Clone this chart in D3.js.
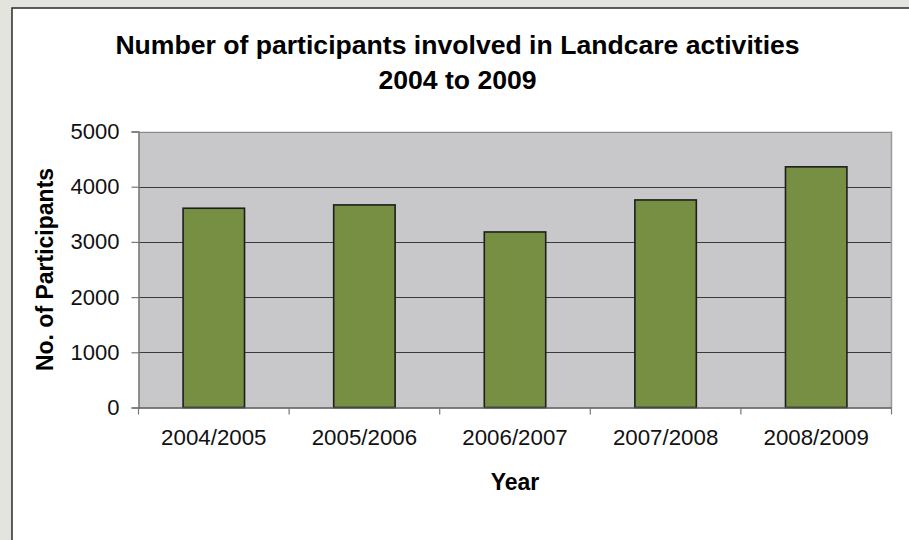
<!DOCTYPE html>
<html><head><meta charset="utf-8">
<script src="https://cdn.jsdelivr.net/npm/d3@7"></script>
<style>html,body{margin:0;padding:0;background:#e4e4de;}svg{display:block;}</style>
</head><body>
<svg id="c" width="909" height="540"></svg>
<script>
const categories = ["2004/2005","2005/2006","2006/2007","2007/2008","2008/2009"];
const participants = [3610, 3670, 3180, 3760, 4360];
const yTicks = [0,1000,2000,3000,4000,5000];
const titleLines = ["Number of participants involved in Landcare activities","2004 to 2009"];
const yLabel = "No. of Participants";
const xLabel = "Year";

const svg = d3.select("#c");
const font = "'Liberation Sans', Arial, sans-serif";
// white chart panel
svg.append("rect").attr("x",12).attr("y",8).attr("width",920).attr("height",560)
  .attr("fill","#fff").attr("stroke","#2a2a2a").attr("stroke-width",1.5);

const L=138.5, R=891.5, T=131.5, B=407.5;
const x = d3.scaleBand().domain(categories).range([L,R]).padding(0);
const y = d3.scaleLinear().domain([0,5000]).range([B,T]);

svg.append("rect").attr("x",L).attr("y",T).attr("width",R-L).attr("height",B-T).attr("fill","#c8c8ca");

// gridlines
svg.append("g").selectAll("line").data(yTicks.filter(d=>d>0)).join("line")
  .attr("x1",L).attr("x2",R).attr("y1",d=>Math.round(y(d))+0.5).attr("y2",d=>Math.round(y(d))+0.5)
  .attr("stroke",d=>d===5000?"#8a8a8a":"#3a3a3a").attr("stroke-width",1);

// right border
svg.append("line").attr("x1",R).attr("x2",R).attr("y1",T).attr("y2",B).attr("stroke","#9a9a9a").attr("stroke-width",1.5);

// bars
const bw = x.bandwidth()*0.408;
svg.append("g").selectAll("rect").data(participants).join("rect")
  .attr("x",(d,i)=>x(categories[i])+x.bandwidth()/2-bw/2)
  .attr("y",d=>y(d)).attr("width",bw).attr("height",d=>B-y(d))
  .attr("fill","#778f43").attr("stroke","#1e1e1e").attr("stroke-width",1.6);

// y axis
const ya = svg.append("g").attr("transform",`translate(${L},0)`)
  .call(d3.axisLeft(y).tickValues(yTicks).tickSize(7).tickPadding(12).tickFormat(d3.format("d")));
ya.select(".domain").attr("stroke","#777").attr("stroke-width",1.5);
ya.selectAll(".tick line").attr("stroke","#777").attr("stroke-width",1.2);
ya.selectAll("text").attr("font-family",font).attr("font-size","22px").attr("fill","#111");

// x axis
const xa = svg.append("g").attr("transform",`translate(0,${B})`)
  .call(d3.axisBottom(x).tickSize(0).tickPadding(22));
xa.select(".domain").attr("stroke","#555").attr("stroke-width",1.5);
xa.selectAll("text").attr("font-family",font).attr("font-size","22.3px").attr("fill","#111");
// boundary ticks
const bounds = categories.map(c=>x(c)).concat([R]);
svg.append("g").selectAll("line").data(bounds).join("line")
  .attr("x1",d=>d).attr("x2",d=>d).attr("y1",B).attr("y2",B+7)
  .attr("stroke","#777").attr("stroke-width",1.2);

// title
svg.append("g").selectAll("text").data(titleLines).join("text")
  .attr("x",457.5).attr("y",(d,i)=>53.5+i*35).attr("text-anchor","middle")
  .attr("font-family",font).attr("font-weight","bold").attr("font-size","26.6px").attr("fill","#000")
  .text(d=>d);

svg.append("text").attr("transform","translate(52.5,269.5) rotate(-90)").attr("text-anchor","middle")
  .attr("font-family",font).attr("font-weight","bold").attr("font-size","23px").attr("fill","#000").text(yLabel);

svg.append("text").attr("x",515).attr("y",489.5).attr("text-anchor","middle")
  .attr("font-family",font).attr("font-weight","bold").attr("font-size","23px").attr("fill","#000").text(xLabel);
</script>
</body></html>
